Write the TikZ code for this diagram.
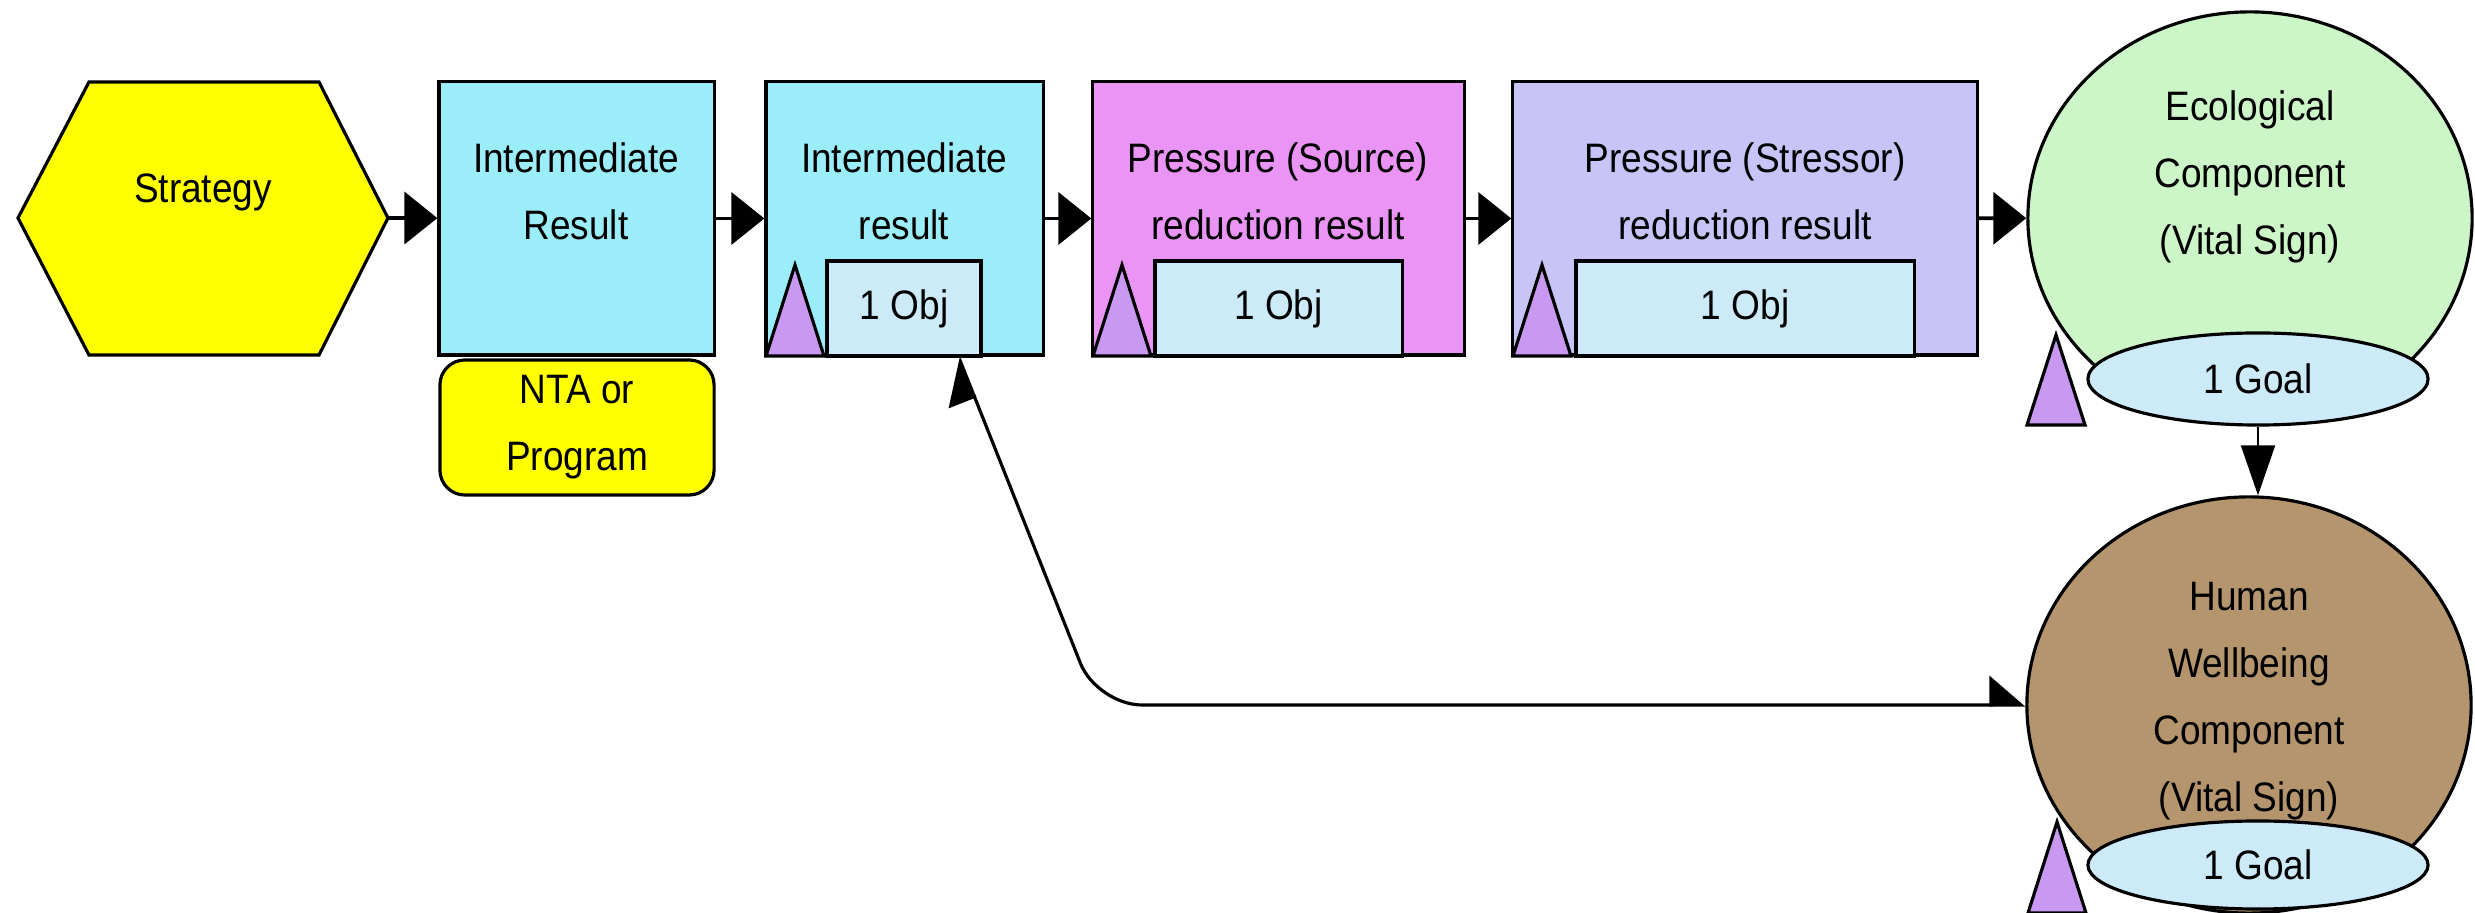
\documentclass[tikz,border=0pt]{standalone}
\usepackage{fontspec}
\setmainfont{Liberation Sans}[FakeStretch=0.9]
\usetikzlibrary{arrows.meta,shapes.geometric,calc}
\definecolor{stratyellow}{HTML}{FFFF00}
\definecolor{resultcyan}{HTML}{9BEDF9}
\definecolor{sourcepink}{HTML}{EA95F5}
\definecolor{stressorblue}{HTML}{C8C4F8}
\definecolor{objblue}{HTML}{CCEAF8}
\definecolor{markerpurple}{HTML}{C999F2}
\definecolor{ecogreen}{HTML}{CCF5C8}
\definecolor{humanbrown}{HTML}{B4956E}
\tikzset{
  resultbox/.style={draw,line width=0.9pt,minimum width=#1,minimum height=2.73cm},
  objbox/.style={draw,line width=0.9pt,fill=objblue,minimum width=#1,minimum height=0.95cm},
  goal/.style={ellipse,draw,line width=0.9pt,fill=objblue,minimum width=3.4cm,minimum height=#1},
  factor/.style={ellipse,draw,line width=0.9pt,minimum width=4.44cm,minimum height=#1},
  marker/.style={draw,line width=0.9pt,fill=markerpurple},
  txt/.style={align=center},
  flow/.style={-{Triangle[length=0.33cm,width=0.52cm]},line width=1.1pt},
  down/.style={-{Triangle[length=0.5cm,width=0.34cm]},line width=0.6pt},
  link/.style={{Triangle[harpoon,length=0.34cm,width=0.58cm]}-{Triangle[harpoon,length=0.42cm,width=0.56cm]},line width=0.9pt}
}
\begin{document}
\begin{tikzpicture}[x=0.01cm,y=-0.01cm,every node/.style={inner sep=0pt,font=\fontsize{11.7}{19}\selectfont}]
  \useasboundingbox (0,0) rectangle (2475,913);
  \draw[fill=stratyellow,line width=0.9pt] (18,218) -- (89,82) -- (319,82) -- (388,218) -- (319,355) -- (89,355) -- cycle;
  \coordinate (strategy) at (388,218);
  \node[txt] (strategytxt) at (203,192) {Strategy};

  \node[resultbox=2.75cm,fill=resultcyan] (ir1) at (576.5,218.5) {};
  \node[txt] (ir1txt) at (576,191) {Intermediate\\Result};
  \node[draw,line width=0.9pt,fill=stratyellow,rounded corners=0.25cm,minimum width=2.74cm,minimum height=1.35cm,txt] (nta) at (577,427.5) {NTA or\\Program};

  \node[resultbox=2.77cm,fill=resultcyan] (ir2) at (904.5,218.5) {};
  \node[txt] (ir2txt) at (904,191) {Intermediate\\result};
  \node[objbox=1.54cm] (obj2) at (904,308.5) {1 Obj};

  \node[resultbox=3.71cm,fill=sourcepink] (src) at (1278.5,218.5) {};
  \node[txt] (srctxt) at (1278,191) {Pressure (Source)\\reduction result};
  \node[objbox=2.47cm] (obj3) at (1278.5,308.5) {1 Obj};

  \node[resultbox=4.64cm,fill=stressorblue] (str) at (1745,218.5) {};
  \node[txt] (strtxt) at (1745,191) {Pressure (Stressor)\\reduction result};
  \node[objbox=3.38cm] (obj4) at (1745,308.5) {1 Obj};

  \foreach \x in {766,1093,1513}
    \draw[marker] (\x,356) -- ++(29,-91) -- ++(29,91) -- cycle;

  \node[factor=4.12cm,fill=ecogreen] (eco) at (2250,218) {};
  \node[txt] (ecotxt) at (2250,177) {Ecological\\Component\\(Vital Sign)};
  \node[goal=0.92cm] (goal1) at (2258,379) {1 Goal};
  \draw[marker] (2027,425) -- (2056,335) -- (2085,425) -- cycle;

  \node[factor=4.16cm,fill=humanbrown] (human) at (2249,705) {};
  \node[txt] (humantxt) at (2249,701) {Human\\Wellbeing\\Component\\(Vital Sign)};
  \node[goal=0.88cm] (goal2) at (2258,865) {1 Goal};
  \draw[marker] (2028,913) -- (2057,822) -- (2086,913) -- cycle;

  \draw[flow] (strategy) -- (ir1);
  \draw[flow] (ir1) -- (ir2);
  \draw[flow] (ir2) -- (src);
  \draw[flow] (src) -- (str);
  \draw[flow] (str) -- (eco);
  \draw[down] (goal1.south) -- (goal1.south |- human.north);
  \draw[link,rounded corners=0.45cm] (human.west) -- (1097,705) -- ([xshift=0.54cm]ir2.south);
\end{tikzpicture}
\end{document}
